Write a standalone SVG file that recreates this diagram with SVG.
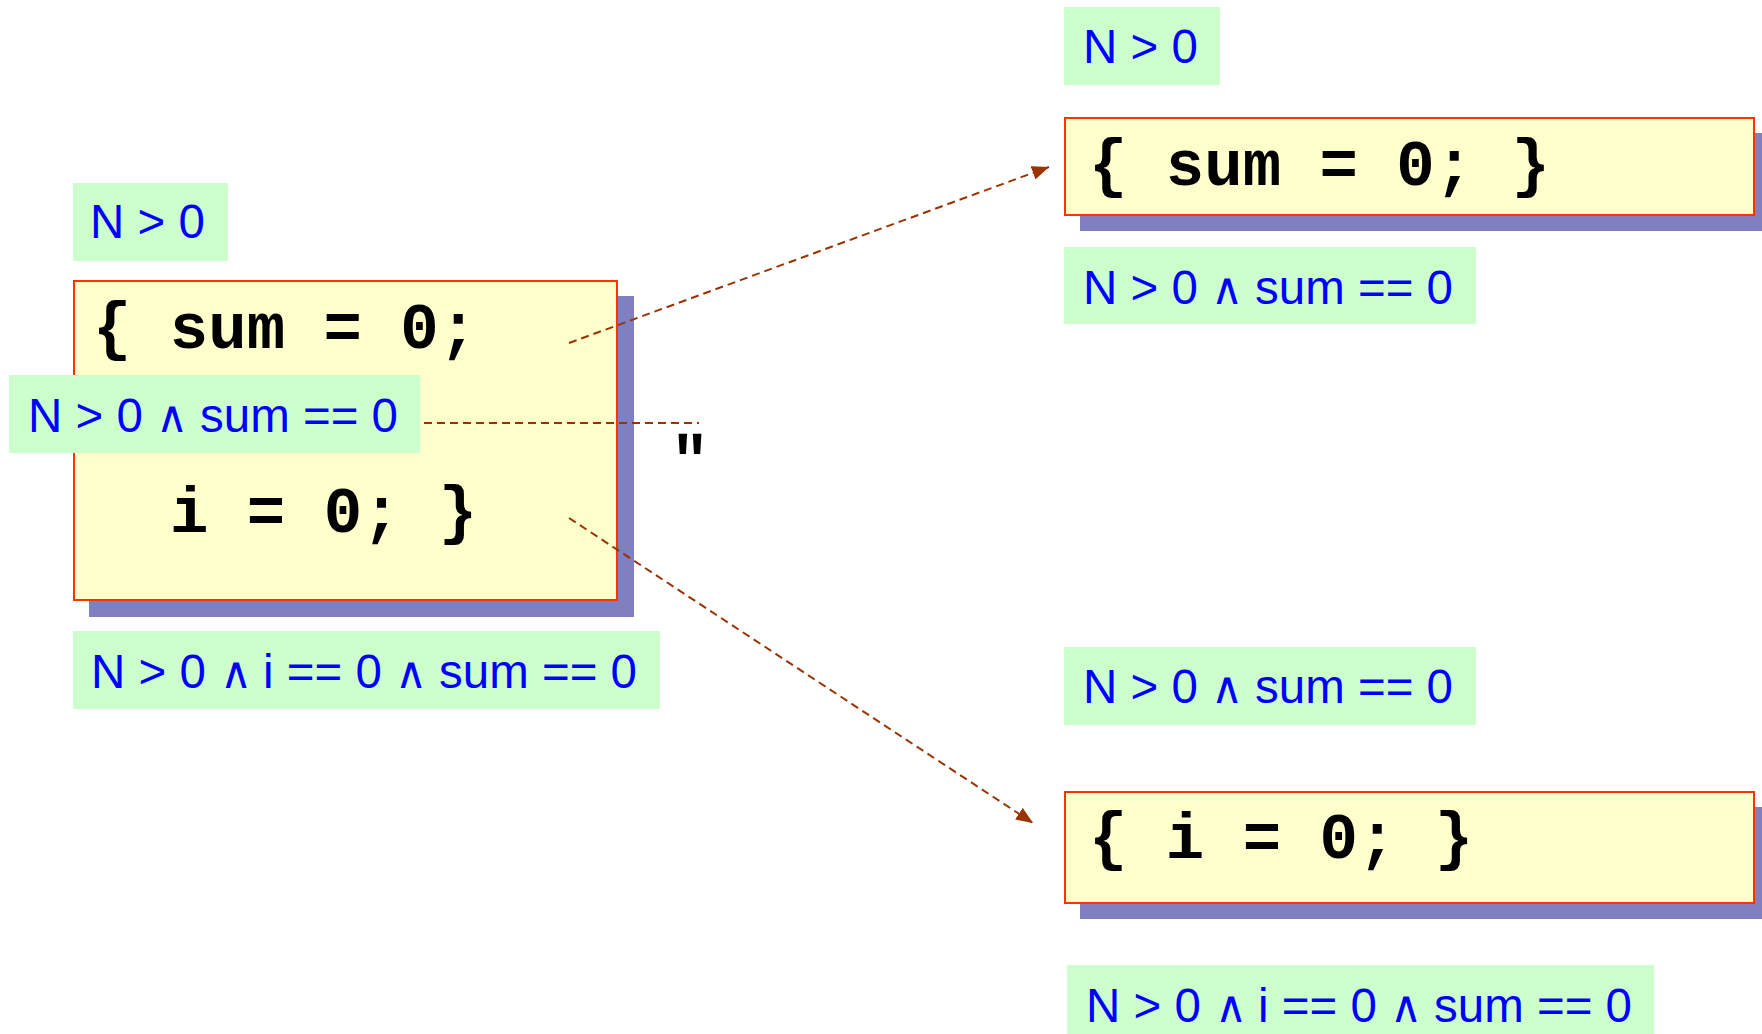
<svg xmlns="http://www.w3.org/2000/svg" width="1762" height="1034" viewBox="0 0 1762 1034">
<style>
.bg{fill:#FFFFFF}
.shadow{fill:#8080C0}
.box{fill:#FFFFCC;stroke:#FF3300;stroke-width:2}
.lbl{fill:#CCFFCC}
.cond{font-family:"Liberation Sans",Arial,sans-serif;font-size:47.5px;fill:#0000FF}
.and{font-family:"DejaVu Sans",sans-serif;font-size:44px;font-weight:200}
.code{font-family:"Liberation Mono","Courier New",monospace;font-size:64px;font-weight:bold;fill:#000000}
.conn{fill:none;stroke:#993300;stroke-width:2;stroke-dasharray:8 5}
</style>
<defs>
<marker id="arrow" markerUnits="userSpaceOnUse" markerWidth="18" markerHeight="14" refX="17" refY="7" orient="auto">
<path d="M0,0 L17,7 L0,14 Z" fill="#993300"/>
</marker>
</defs>
<rect class="bg" x="0" y="0" width="1762" height="1034"/>

<g id="block-left">
<rect class="shadow" x="89" y="296" width="545" height="321"/>
<rect class="box" x="74" y="281" width="543" height="319"/>
<text class="code" x="93" y="348">{ sum = 0;</text>
<text class="code" x="170" y="532">i = 0; }</text>
</g>

<g id="block-sum">
<rect class="shadow" x="1080" y="133" width="690" height="98"/>
<rect class="box" x="1065" y="118" width="689" height="97"/>
<text class="code" x="1089" y="185">{ sum = 0; }</text>
</g>

<g id="block-i">
<rect class="shadow" x="1080" y="807" width="690" height="112"/>
<rect class="box" x="1065" y="792" width="689" height="111"/>
<text class="code" x="1089" y="858">{ i = 0; }</text>
</g>

<g id="connectors">
<line class="conn" x1="569" y1="343" x2="1049" y2="167" marker-end="url(#arrow)"/>
<line class="conn" x1="569" y1="518" x2="1033" y2="823" marker-end="url(#arrow)"/>
<line class="conn" x1="424" y1="423" x2="699" y2="423"/>
</g>

<g id="pre-left">
<rect class="lbl" x="73" y="183" width="155" height="78"/>
<text class="cond" x="90" y="238">N &gt; 0</text>
</g>

<g id="mid-left">
<rect class="lbl" x="9" y="375" width="411" height="78"/>
<text class="cond" y="432"><tspan x="28">N &gt; 0</tspan><tspan class="and" x="172" text-anchor="middle">∧</tspan><tspan x="200">sum == 0</tspan></text>
</g>

<g id="post-left">
<rect class="lbl" x="73" y="631" width="587" height="78"/>
<text class="cond" y="688"><tspan x="91">N &gt; 0</tspan><tspan class="and" x="236" text-anchor="middle">∧</tspan><tspan x="263">i == 0</tspan><tspan class="and" x="411" text-anchor="middle">∧</tspan><tspan x="439">sum == 0</tspan></text>
</g>

<g id="pre-sum">
<rect class="lbl" x="1064" y="7" width="156" height="78"/>
<text class="cond" x="1083" y="63">N &gt; 0</text>
</g>

<g id="post-sum">
<rect class="lbl" x="1064" y="247" width="412" height="77"/>
<text class="cond" y="304"><tspan x="1083">N &gt; 0</tspan><tspan class="and" x="1227" text-anchor="middle">∧</tspan><tspan x="1255">sum == 0</tspan></text>
</g>

<g id="pre-i">
<rect class="lbl" x="1064" y="647" width="412" height="78"/>
<text class="cond" y="703"><tspan x="1083">N &gt; 0</tspan><tspan class="and" x="1227" text-anchor="middle">∧</tspan><tspan x="1255">sum == 0</tspan></text>
</g>

<g id="post-i">
<rect class="lbl" x="1067" y="965" width="587" height="78"/>
<text class="cond" y="1022"><tspan x="1086">N &gt; 0</tspan><tspan class="and" x="1231" text-anchor="middle">∧</tspan><tspan x="1258">i == 0</tspan><tspan class="and" x="1406" text-anchor="middle">∧</tspan><tspan x="1434">sum == 0</tspan></text>
</g>

<text class="code" x="690" y="481" font-size="30" text-anchor="middle">"</text>
</svg>
